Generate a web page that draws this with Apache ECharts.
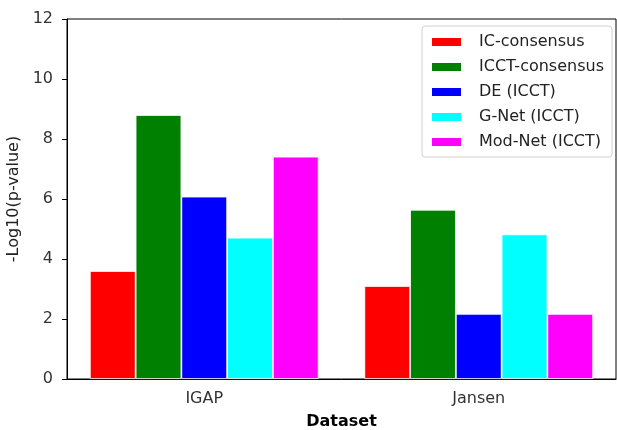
<!DOCTYPE html>
<html>
<head>
<meta charset="utf-8">
<script src="https://cdn.jsdelivr.net/npm/echarts@6/dist/echarts.min.js"></script>
<style>
  html, body { margin: 0; padding: 0; background: #fff; }
  #chart { width: 617px; height: 430px; }
</style>
</head>
<body>
<div id="chart"></div>
<script>
// 数据
var datasets = ['IGAP', 'Jansen'];
var seriesNames = ['IC-consensus', 'ICCT-consensus', 'DE (ICCT)', 'G-Net (ICCT)', 'Mod-Net (ICCT)'];
var seriesColors = ['#ff0000', '#008000', '#0000ff', '#00ffff', '#ff00ff'];
var icConsensus = [3.6, 3.1];
var icctConsensus = [8.8, 5.64];
var deIcct = [6.08, 2.17];
var gNetIcct = [4.71, 4.82];
var modNetIcct = [7.41, 2.17];
var yTicks = [0, 2, 4, 6, 8, 10, 12];

var font = 'DejaVu Sans';
var allValues = [icConsensus, icctConsensus, deIcct, gNetIcct, modNetIcct];

var myChart = echarts.init(document.getElementById('chart'));

var series = [];
for (var i = 0; i < seriesNames.length; i++) {
    series.push({
        name: seriesNames[i],
        type: 'bar',
        barGap: '0%',
        barCategoryGap: '16.67%',
        itemStyle: {
            color: seriesColors[i],
            borderColor: '#ffffff',
            borderWidth: 0.8
        },
        data: allValues[i]
    });
}

myChart.setOption({
    animation: false,
    textStyle: { fontFamily: font },
    grid: {
        left: 67, right: 1, top: 19, bottom: 51,
        containLabel: false,
        outerBoundsMode: 'none',
        show: true,
        borderColor: '#000',
        borderWidth: 1
    },
    legend: {
        orient: 'vertical',
        right: 5,
        top: 26,
        icon: 'rect',
        itemWidth: 31,
        itemHeight: 10,
        itemGap: 9,
        padding: [8, 8, 7, 8],
        borderColor: '#d0d0d0',
        borderWidth: 1,
        borderRadius: 3,
        textStyle: { fontFamily: font, fontSize: 16, color: '#222', padding: [0, 0, 0, 12] },
        data: seriesNames
    },
    xAxis: {
        type: 'category',
        data: datasets,
        name: 'Dataset',
        nameLocation: 'middle',
        nameGap: 35,
        nameTextStyle: { fontFamily: font, fontSize: 16, fontWeight: 'bold', color: '#000' },
        axisLine: { lineStyle: { color: '#000' } },
        axisTick: { alignWithLabel: true, length: 5, lineStyle: { color: '#000' } },
        axisLabel: { fontFamily: font, fontSize: 16, color: '#333', margin: 12 }
    },
    yAxis: {
        type: 'value',
        min: yTicks[0],
        max: yTicks[yTicks.length - 1],
        interval: 2,
        name: '-Log10(p-value)',
        nameLocation: 'middle',
        nameGap: 38,
        nameTextStyle: { fontFamily: font, fontSize: 16, color: '#222' },
        splitLine: { show: false },
        axisLine: { show: true, lineStyle: { color: '#000' } },
        axisTick: { show: true, length: 5, lineStyle: { color: '#000' } },
        axisLabel: { fontFamily: font, fontSize: 16, color: '#333', margin: 14 }
    },
    series: series
});
</script>
</body>
</html>
